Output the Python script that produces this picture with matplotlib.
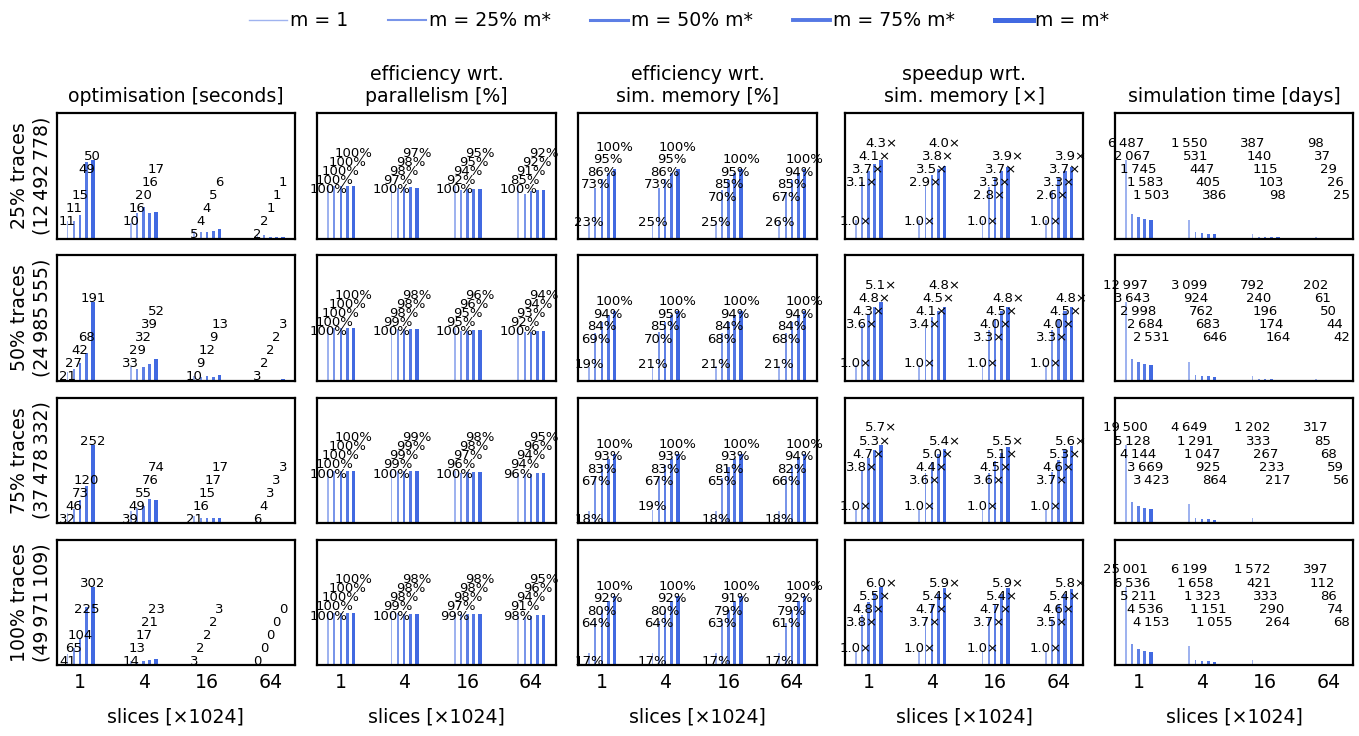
import numpy as np
import matplotlib.pyplot as plt
from matplotlib.lines import Line2D

plt.rcParams['font.family'] = ['DejaVu Sans']

THIN = '\u2009'

slices = ['1', '4', '16', '64']
series = ['m = 1', 'm = 25% m*', 'm = 50% m*', 'm = 75% m*', 'm = m*']
rows = ['25% traces\n(12' + THIN + '492' + THIN + '778)',
        '50% traces\n(24' + THIN + '985' + THIN + '555)',
        '75% traces\n(37' + THIN + '478' + THIN + '332)',
        '100% traces\n(49' + THIN + '971' + THIN + '109)']

# [row][slice group][m setting]
optimisation = [
    [[11, 11, 15, 49, 50], [10, 16, 20, 16, 17], [5, 4, 4, 5, 6], [2, 2, 1, 1, 1]],
    [[21, 27, 42, 68, 191], [33, 29, 32, 39, 52], [10, 9, 12, 9, 13], [3, 2, 2, 2, 3]],
    [[32, 46, 73, 120, 252], [39, 49, 55, 76, 74], [21, 16, 15, 17, 17], [6, 4, 3, 3, 3]],
    [[41, 65, 104, 225, 302], [14, 13, 17, 21, 23], [3, 2, 2, 2, 3], [0, 0, 0, 0, 0]],
]
eff_parallel = [
    [[100, 100, 100, 100, 100], [100, 97, 98, 98, 97], [100, 92, 94, 95, 95], [100, 85, 91, 92, 92]],
    [[100, 100, 100, 100, 100], [100, 99, 98, 98, 98], [100, 95, 95, 96, 96], [100, 92, 93, 94, 94]],
    [[100, 100, 100, 100, 100], [100, 99, 99, 99, 99], [100, 96, 97, 98, 98], [96, 94, 94, 96, 95]],
    [[100, 100, 100, 100, 100], [100, 99, 98, 98, 98], [99, 97, 98, 98, 98], [98, 91, 94, 96, 95]],
]
eff_memory = [
    [[23, 73, 86, 95, 100], [25, 73, 86, 95, 100], [25, 70, 85, 95, 100], [26, 67, 85, 94, 100]],
    [[19, 69, 84, 94, 100], [21, 70, 85, 95, 100], [21, 68, 84, 94, 100], [21, 68, 84, 94, 100]],
    [[18, 67, 83, 93, 100], [19, 67, 83, 93, 100], [18, 65, 81, 93, 100], [18, 66, 82, 94, 100]],
    [[17, 64, 80, 92, 100], [17, 64, 80, 92, 100], [17, 63, 79, 91, 100], [17, 61, 79, 92, 100]],
]
speedup = [
    [[1.0, 3.1, 3.7, 4.1, 4.3], [1.0, 2.9, 3.5, 3.8, 4.0], [1.0, 2.8, 3.3, 3.7, 3.9], [1.0, 2.6, 3.3, 3.7, 3.9]],
    [[1.0, 3.6, 4.3, 4.8, 5.1], [1.0, 3.4, 4.1, 4.5, 4.8], [1.0, 3.3, 4.0, 4.5, 4.8], [1.0, 3.3, 4.0, 4.5, 4.8]],
    [[1.0, 3.8, 4.7, 5.3, 5.7], [1.0, 3.6, 4.4, 5.0, 5.4], [1.0, 3.6, 4.5, 5.1, 5.5], [1.0, 3.7, 4.6, 5.3, 5.6]],
    [[1.0, 3.8, 4.8, 5.5, 6.0], [1.0, 3.7, 4.7, 5.4, 5.9], [1.0, 3.7, 4.7, 5.4, 5.9], [1.0, 3.5, 4.6, 5.4, 5.8]],
]
sim_days = [
    [[6487, 2067, 1745, 1583, 1503], [1550, 531, 447, 405, 386], [387, 140, 115, 103, 98], [98, 37, 29, 26, 25]],
    [[12997, 3643, 2998, 2684, 2531], [3099, 924, 762, 683, 646], [792, 240, 196, 174, 164], [202, 61, 50, 44, 42]],
    [[19500, 5128, 4144, 3669, 3423], [4649, 1291, 1047, 925, 864], [1202, 333, 267, 233, 217], [317, 85, 68, 59, 56]],
    [[25001, 6536, 5211, 4536, 4153], [6199, 1658, 1323, 1151, 1055], [1572, 421, 333, 290, 264], [397, 112, 86, 74, 68]],
]

BLUE = '#4169e1'
alphas = [0.5, 0.7, 0.85, 0.9, 1.0]
widths = [0.025, 0.03, 0.038, 0.048, 0.058]
offsets = [-0.2, -0.1, 0.0, 0.1, 0.2]
legend_lw = [1.0, 1.5, 2.2, 2.8, 3.6]
FS = 13.6
LABEL_FS = 9.5


def fmt_days(v):
    return f'{v:,.0f}'.replace(',', THIN)


# title, data, label format, ylim factor, label slot factor, fixed stacking
panels = [
    ('optimisation [seconds]', optimisation, lambda v: f'{v:.0f}', 1.6, 1 / 6, False),
    ('efficiency wrt.\nparallelism [%]', eff_parallel, lambda v: f'{v:.0f}%', 2.4, 0.174, False),
    ('efficiency wrt.\nsim. memory [%]', eff_memory, lambda v: f'{v:.0f}%', 1.81, 0.181, False),
    ('speedup wrt.\nsim. memory [\u00d7]', speedup, lambda v: f'{v:.1f}\u00d7', 1.6, 1 / 6, False),
    ('simulation time [days]', sim_days, fmt_days, 1.6, 1 / 6, True),
]


def draw(ax, vals, fmt, ylim_f, slot_f, fixed):
    vals = np.array(vals, dtype=float)
    vmax = vals.max()
    ax.set_ylim(0, ylim_f * vmax)
    u = slot_f * vmax
    for g in range(len(slices)):
        k_prev = -1
        for i in range(len(series)):
            v = vals[g, i]
            x = g + offsets[i]
            ax.bar(x, v, width=widths[i], color=BLUE, alpha=alphas[i], linewidth=0)
            # stack the value labels on slots so they don't sit on each other
            if fixed:
                k = 7 - i
            else:
                k = max(int(v / u + 1e-9), k_prev + 1)
                k_prev = k
            ax.text(x, k * u, fmt(v), ha='center', va='baseline',
                    fontsize=LABEL_FS, color='black')


fig = plt.figure(figsize=(13.59, 7.36), dpi=100)
W, H = 1359, 736
col_left = [56.7, 317.3, 578.3, 845.0, 1115.0]
col_w = 238.4
row_top = [113.0, 255.0, 397.5, 539.5]
row_h = 125.5

for r in range(4):
    for c, (title, data, fmt, ylf, slf, fixed) in enumerate(panels):
        ax = fig.add_axes([col_left[c] / W, 1 - (row_top[r] + row_h) / H,
                           col_w / W, row_h / H])
        draw(ax, data[r], fmt, ylf, slf, fixed)
        ax.set_xlim(-0.37, 3.39)
        ax.set_yticks([])
        for s in ax.spines.values():
            s.set_linewidth(1.6)
        ax.tick_params(axis='x', length=0, pad=6, labelsize=FS)
        if r == 3:
            ax.set_xticks(range(len(slices)))
            ax.set_xticklabels(slices)
            ax.set_xlabel('slices [\u00d71024]', fontsize=FS, labelpad=11)
        else:
            ax.set_xticks([])
        if r == 0:
            ax.set_title(title, fontsize=FS, pad=8)
        if c == 0:
            ax.set_ylabel(rows[r], fontsize=FS, labelpad=4)

handles = [Line2D([], [], color=BLUE, alpha=a, lw=lw) for a, lw in zip(alphas, legend_lw)]
fig.legend(handles, series, loc='upper center', bbox_to_anchor=(0.5, 1.0), ncol=5,
           frameon=False, fontsize=FS, handlelength=2.0, handletextpad=0.15,
           columnspacing=2.1, borderaxespad=0.2)

fig.savefig('out.png', dpi=100)
